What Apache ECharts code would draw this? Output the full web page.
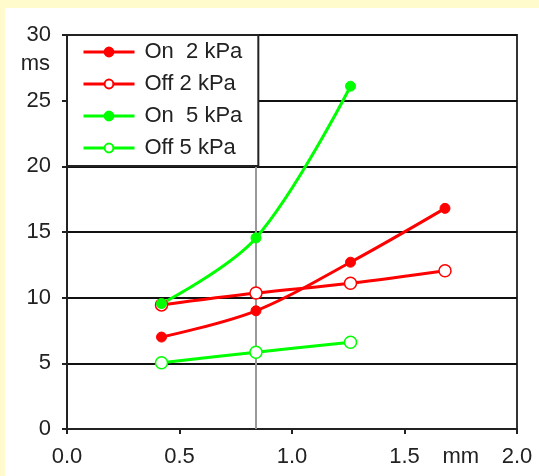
<!DOCTYPE html>
<html>
<head>
<meta charset="utf-8">
<script src="https://cdn.jsdelivr.net/npm/echarts@6/dist/echarts.min.js"></script>
<style>
html,body{margin:0;padding:0;background:#FFFBCC;}
#chart{width:539px;height:476px;}
</style>
</head>
<body>
<div id="chart"></div>
<script>
// ---- data ----
const seriesNames = ['On  2 kPa', 'Off 2 kPa', 'On  5 kPa', 'Off 5 kPa'];
const xValues = [0.42, 0.84, 1.26, 1.68];
const on2 = [7.0, 9.0, 12.7, 16.8];
const off2 = [9.45, 10.35, 11.1, 12.05];
const on5 = [9.55, 14.55, 26.1];
const off5 = [5.05, 5.85, 6.6];
const refLineX = 0.843;
const xTicks = [0, 0.5, 1.0, 1.5, 2.0];
const yTicks = [0, 5, 10, 15, 20, 25, 30];
const yUnit = 'ms';
const xUnit = 'mm';

const FONT = 'Liberation Sans, Arial, sans-serif';
const FS = 22;
const RED = '#FF0000', GREEN = '#00FF00';

function pairs(ys) { return ys.map((y, i) => [xValues[i], y]); }

function mkSeries(name, ys, color, filled, extra) {
  return Object.assign({
    name: name,
    type: 'line',
    data: pairs(ys),
    smooth: 0.35,
    symbol: 'circle',
    symbolSize: filled ? 10 : 12,
    showSymbol: true,
    lineStyle: { color: color, width: 3 },
    itemStyle: filled ? { color: color, borderColor: color, borderWidth: 1 }
                      : { color: '#fff', borderColor: color, borderWidth: 1.5 },
    z: 3
  }, extra || {});
}

const chart = echarts.init(document.getElementById('chart'), null, { renderer: 'canvas' });

const option = {
  backgroundColor: '#FFFBCC',
  animation: false,
  textStyle: { fontFamily: FONT },
  graphic: [
    { type: 'rect', left: 5, top: 8, shape: { width: 534, height: 468 }, style: { fill: '#fff' }, z: -100, silent: true }
  ],
  grid: {
    left: 67, top: 35, width: 450, height: 394,
    show: true, backgroundColor: '#fff', borderColor: '#333', borderWidth: 2
  },
  legend: {
    orient: 'vertical',
    left: 67, top: 35,
    backgroundColor: '#fff',
    borderColor: '#222', borderWidth: 2,
    padding: [6, 16, 7, 15],
    itemWidth: 51, itemHeight: 11,
    itemGap: 10,
    z: 10,
    lineStyle: { width: 3 },
    data: seriesNames,
    textStyle: { fontFamily: FONT, fontSize: FS, color: '#222', padding: [0, 0, 0, 5] }
  },
  xAxis: {
    type: 'value', min: xTicks[0], max: xTicks[xTicks.length - 1], interval: 0.5,
    axisLine: { show: true, onZero: false, lineStyle: { color: '#222', width: 2 } },
    axisTick: { show: true, inside: false, length: 5, lineStyle: { color: '#222', width: 2 } },
    splitLine: { show: false },
    axisLabel: { fontFamily: FONT, fontSize: FS, color: '#222', margin: 17,
      formatter: v => v.toFixed(1) }
  },
  yAxis: {
    type: 'value', min: yTicks[0], max: yTicks[yTicks.length - 1], interval: 5,
    axisLine: { show: true, lineStyle: { color: '#222', width: 2 } },
    axisTick: { show: true, inside: false, length: 5, lineStyle: { color: '#222', width: 2 } },
    splitLine: { show: true, lineStyle: { color: '#111', width: 2 } },
    axisLabel: { fontFamily: FONT, fontSize: FS, color: '#222', margin: 16 }
  },
  series: [
    mkSeries(seriesNames[0], on2, RED, true, {
      markLine: {
        silent: true, symbol: 'none', label: { show: false },
        lineStyle: { color: '#999', width: 2, type: 'solid' },
        data: [{ xAxis: refLineX }],
        z: 1
      }
    }),
    mkSeries(seriesNames[1], off2, RED, false),
    mkSeries(seriesNames[2], on5, GREEN, true),
    mkSeries(seriesNames[3], off5, GREEN, false)
  ]
};
chart.setOption(option);

// unit labels placed via the axes
const msPos = chart.convertToPixel({ gridIndex: 0 }, [0, 27.8]);
const mmPos = chart.convertToPixel({ gridIndex: 0 }, [1.75, 0]);
chart.setOption({
  graphic: [
    { type: 'rect', left: 5, top: 8, shape: { width: 534, height: 468 }, style: { fill: '#fff' }, z: -100, silent: true },
    { type: 'text', x: msPos[0] - 17, y: msPos[1], style: { text: yUnit, font: FS + 'px ' + FONT, fill: '#222', align: 'right', verticalAlign: 'middle' }, z: 5 },
    { type: 'text', x: mmPos[0], y: mmPos[1] + 28, style: { text: xUnit, font: FS + 'px ' + FONT, fill: '#222', align: 'center', verticalAlign: 'middle' }, z: 5 }
  ]
}, { replaceMerge: ['graphic'] });
</script>
</body>
</html>
